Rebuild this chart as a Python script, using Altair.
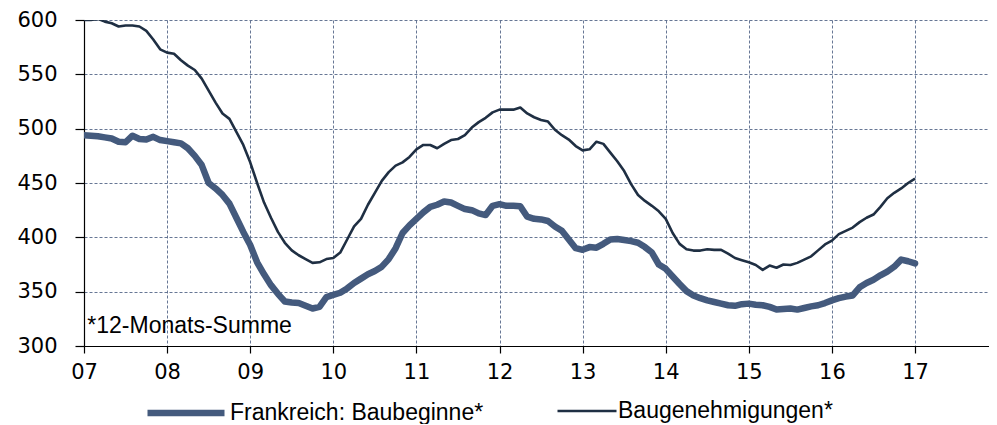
import altair as alt
import pandas as pd

# Monthly values, Jan 2007 .. Jan 2017 (in thousands, 12-month sums)
baubeginne = [
    494, 493.5, 493, 492, 491, 488, 487.5, 493.5, 490.5, 490, 492.5, 489.5,
    488.5, 487.5, 486.5, 482, 475, 466.5, 450, 445, 439, 431, 418, 405,
    393, 377, 366, 356, 348, 341, 340, 339.5, 337, 334.5, 336, 345,
    347, 349, 353, 358, 362, 366, 369, 373, 380, 390, 404, 411,
    417, 423, 428, 430, 433, 432, 429, 426, 425, 422, 420.5, 429,
    430.5, 429, 429, 428.5, 419, 417, 416.5, 415, 410, 406, 398, 390,
    388.5, 391, 390.5, 394, 398, 398.5, 397.5, 396.5, 395, 391, 386, 375,
    371, 364, 357, 350.5, 346.5, 344, 342, 340.5, 339, 337.5, 337, 338.5,
    339, 338, 337.5, 336, 333.5, 334, 334.5, 333.5, 335, 336.5, 337.5, 339.5,
    342, 344, 345.5, 346.5, 354, 358, 361, 365, 368.5, 373, 379.5, 378,
    376,
]
baugenehmigungen = [
    600, 600, 601, 598.5, 597, 594, 595, 595, 594, 590, 582, 573,
    570, 569, 563, 558, 554, 546, 535, 524, 514, 509, 497, 485,
    469, 450, 432, 418, 405, 395, 388, 383.5, 380, 376.5, 377, 380,
    381, 386, 398, 410, 417, 430, 441, 452, 460, 466, 469, 474,
    481, 485, 485, 482, 486, 489.5, 490.5, 494, 501, 506, 510, 515,
    517.5, 517.5, 517.5, 519.5, 514, 510.5, 508, 506.5, 499, 494, 490, 484,
    480, 481, 488, 486, 478, 470, 461, 449, 439, 433.5, 429, 424,
    417, 404, 394, 389, 387.8, 387.8, 389, 388.5, 388.5, 385, 381, 379,
    377, 374.5, 370, 374, 372, 375, 374.5, 376.5, 379.5, 382.5, 388, 393.5,
    397, 403, 406, 409, 414, 418, 421, 428, 436, 441, 445, 450,
    454,
]
tick_years = list(range(2007, 2018))
y_ticks = [300, 350, 400, 450, 500, 550, 600]
series_names = ["Frankreich: Baubeginne*", "Baugenehmigungen*"]
note_text = "*12-Monats-Summe"
note_pos = (2007.04, 312)

c_thick = "#445a7d"
c_thin = "#1f2f43"
grid_c = "#56688a"

t = [2007 + i / 12 for i in range(len(baubeginne))]
df1 = pd.DataFrame({"t": t, "v": baubeginne, "s": series_names[0]})
df2 = pd.DataFrame({"t": t, "v": baugenehmigungen, "s": series_names[1]})
df_note = pd.DataFrame({"t": [note_pos[0]], "v": [note_pos[1]], "label": [note_text]})

x_enc = alt.X(
    "t:Q",
    scale=alt.Scale(domain=[2007, 2017.89], nice=False, zero=False),
    axis=alt.Axis(
        values=tick_years, format="d", labelExpr="substring(datum.label, 2)",
        title=None, grid=True, tickSize=7, labelPadding=8, labelFlush=False,
        labelFont="DejaVu Sans", labelFontSize=21,
    ),
)
y_enc = alt.Y(
    "v:Q",
    scale=alt.Scale(domain=[300, 600], nice=False, zero=False),
    axis=alt.Axis(
        values=y_ticks, title=None, grid=True, tickSize=9, labelPadding=18,
        labelFont="DejaVu Sans", labelFontSize=21,
    ),
)

line1 = alt.Chart(df1).mark_line(strokeWidth=6.5, clip=True, strokeJoin="round", strokeCap="round").encode(
    x=x_enc, y=y_enc,
    color=alt.Color(
        "s:N",
        scale=alt.Scale(domain=[series_names[0]], range=[c_thick]),
        legend=alt.Legend(
            orient="none", legendX=60, legendY=351, title=None,
            symbolType="stroke", symbolSize=77 * 77, symbolStrokeWidth=6.5,
            labelFont="Liberation Sans", labelFontSize=23, labelColor="black",
            labelOffset=2, labelLimit=500, padding=0,
        ),
    ),
)
line2 = alt.Chart(df2).mark_line(strokeWidth=2.6, clip=True, strokeJoin="round").encode(
    x=x_enc, y=y_enc,
    color=alt.Color(
        "s:N",
        scale=alt.Scale(domain=[series_names[1]], range=[c_thin]),
        legend=alt.Legend(
            orient="none", legendX=472, legendY=360, title=None,
            symbolType="stroke", symbolSize=59 * 59, symbolStrokeWidth=2.6,
            labelFont="Liberation Sans", labelFontSize=23, labelColor="black",
            labelOffset=0, labelLimit=500, padding=0,
        ),
    ),
)
note = alt.Chart(df_note).mark_text(
    align="left", baseline="alphabetic", font="Liberation Sans", fontSize=23, color="black"
).encode(x=x_enc, y=y_enc, text="label:N")

chart = alt.layer(line1, line2, note).resolve_scale(color="independent").properties(
    width=905, height=326, autosize="none",
    padding={"left": 76, "top": 12, "right": 0, "bottom": 78},
).configure_view(stroke=None).configure_axis(
    domainColor="black", domainWidth=1.2, tickColor="black", tickWidth=1.2,
    gridColor=grid_c, gridDash=[3, 2], gridWidth=1, gridOpacity=0.9,
    labelColor="black",
)

chart.save("out.html", embed_options={"renderer": "svg", "actions": False})
